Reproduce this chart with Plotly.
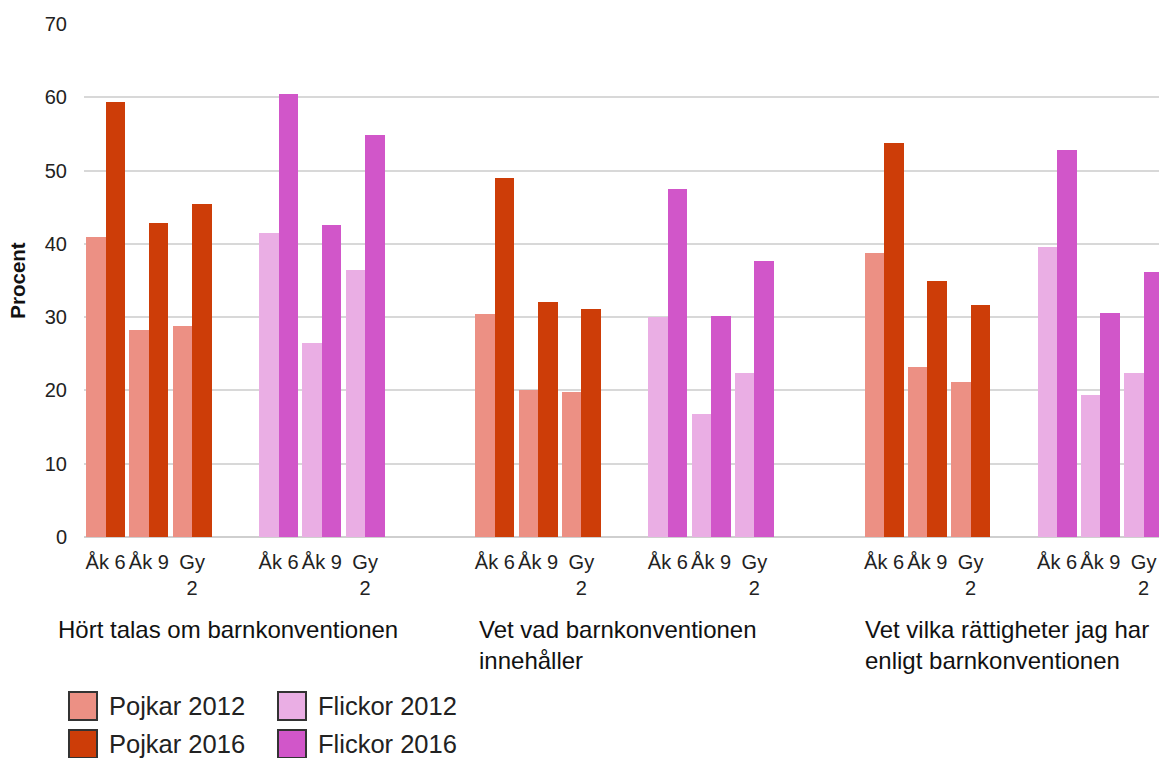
import plotly.graph_objects as go

# ---------------- data ----------------
questions = [
    "Hört talas om barnkonventionen",
    "Vet vad barnkonventionen<br>innehåller",
    "Vet vilka rättigheter jag har<br>enligt barnkonventionen",
]
grade_labels = ["Åk 6", "Åk 9", "Gy<br>2"]
series_names = ["Pojkar 2012", "Pojkar 2016", "Flickor 2012", "Flickor 2016"]

# order: question 1 (Åk 6, Åk 9, Gy 2), question 2 (...), question 3 (...)
pojkar_2012 = [40.9, 28.2, 28.8, 30.4, 20.0, 19.8, 38.7, 23.2, 21.1]
pojkar_2016 = [59.4, 42.8, 45.4, 49.0, 32.1, 31.1, 53.7, 34.9, 31.6]
flickor_2012 = [41.5, 26.5, 36.5, 30.0, 16.8, 22.4, 39.6, 19.4, 22.4]
flickor_2016 = [60.4, 42.6, 54.9, 47.5, 30.2, 37.6, 52.8, 30.6, 36.2]

y_ticks = [0, 10, 20, 30, 40, 50, 60, 70]

# ---------------- style ----------------
colors = ["#EC9084", "#CD3D08", "#EAAEE4", "#D156C9"]
FONT = "Liberation Sans, Arial, sans-serif"
W, H = 1159, 758
ML, MR, MT, MB = 84, 0, 24, 221

GROUP_STEP = 9      # slots between questions
GENDER_STEP = 4     # slots between Pojkar and Flickor blocks
BAR_W = 0.45

n_q = len(questions)
n_g = len(grade_labels)


def positions(gender):
    return [q * GROUP_STEP + gender * GENDER_STEP + g for q in range(n_q) for g in range(n_g)]


series_values = [pojkar_2012, pojkar_2016, flickor_2012, flickor_2016]
series_gender = [0, 0, 1, 1]
series_offset = [-BAR_W, 0.0, -BAR_W, 0.0]

fig = go.Figure()
for name, vals, gen, off, col in zip(series_names, series_values, series_gender, series_offset, colors):
    fig.add_trace(go.Bar(
        name=name,
        x=positions(gen),
        y=vals,
        width=BAR_W,
        offset=off,
        marker=dict(color=col, line=dict(width=0)),
        showlegend=False,
    ))

tickvals = positions(0) + positions(1)
ticktext = [grade_labels[i % n_g] for i in range(len(tickvals))]

x_min = -0.5
x_max = x_min + (W - ML - MR) / 43.25

fig.update_layout(
    width=W, height=H,
    margin=dict(l=ML, r=MR, t=MT, b=MB),
    paper_bgcolor="white", plot_bgcolor="white",
    barmode="overlay",
    bargap=0,
    font=dict(family=FONT, size=20, color="#222222"),
    xaxis=dict(
        range=[x_min, x_max],
        tickmode="array", tickvals=tickvals, ticktext=ticktext,
        showgrid=False, zeroline=False, showline=False, ticks="",
        tickfont=dict(size=20, color="#222222"),
        ticklabelstandoff=11,
        fixedrange=True,
    ),
    yaxis=dict(
        range=[0, 70],
        tickmode="array", tickvals=y_ticks,
        showgrid=True, gridcolor="#d8d8d8", gridwidth=2,
        zeroline=True, zerolinecolor="#cfcfcf", zerolinewidth=2,
        showline=False, ticks="",
        tickfont=dict(size=20, color="#222222"),
        ticklabelstandoff=16,
        title=dict(text="<b>Procent</b>", font=dict(size=20.5, color="#111111"), standoff=13),
        fixedrange=True,
    ),
)

# question labels under each block
for q, label in enumerate(questions):
    center = q * GROUP_STEP + (GENDER_STEP + n_g - 1) / 2
    fig.add_annotation(
        x=center, xref="x", y=-0.15, yref="paper",
        text=label, showarrow=False,
        xanchor="center", yanchor="top", align="left",
        xshift=-7,
        font=dict(family=FONT, size=24, color="#111111"),
    )


# legend drawn as large swatches
def px_x(p):
    return (p - ML) / (W - ML - MR)


def px_y(p):
    return (H - MB - p) / (H - MT - MB)


legend_cols = [69, 278]
legend_rows = [692, 730]
SW = 28
for k, (name, col) in enumerate(zip(series_names, colors)):
    c = k // 2
    r = k % 2
    x0 = legend_cols[c]
    y0 = legend_rows[r]
    fig.add_shape(
        type="rect", xref="paper", yref="paper",
        x0=px_x(x0), x1=px_x(x0 + SW), y0=px_y(y0), y1=px_y(y0 + SW),
        fillcolor=col, line=dict(color="#333333", width=2),
    )
    fig.add_annotation(
        x=px_x(x0 + SW + 10), xref="paper", y=px_y(y0 + SW / 2), yref="paper",
        text=name, showarrow=False, xanchor="left", yanchor="middle",
        font=dict(family=FONT, size=25.5, color="#222222"),
    )

fig.write_html(
    "out.html",
    config={"displayModeBar": False},
    post_script="document.body.style.margin='0';document.body.style.overflow='hidden';",
)
